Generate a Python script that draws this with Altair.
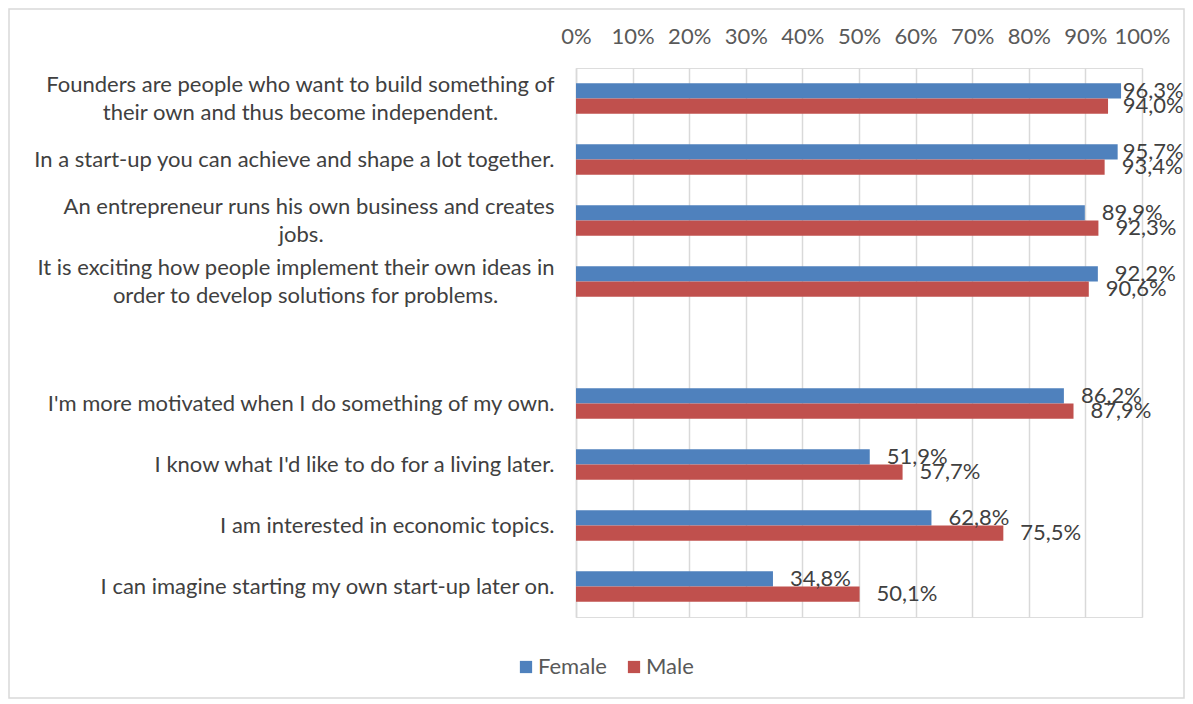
import altair as alt
import pandas as pd

NB = "\u00a0"
ZW = "\u200b"

categories = [
    "Founders are people who want to build something of|their own and thus become independent." + NB * 10 + ZW,
    "In a start-up you can achieve and shape a lot together.",
    "An entrepreneur runs his own business and creates|jobs." + NB * 41 + ZW,
    "It is exciting how people implement their own ideas in|order to develop solutions for problems." + NB * 10 + ZW,
    " ",
    "I'm more motivated when I do something of my own.",
    "I know what I'd like to do for a living later.",
    "I am interested in economic topics.",
    "I can imagine starting my own start-up later on.",
]
series = ["Female", "Male"]
female = [96.3, 95.7, 89.9, 92.2, None, 86.2, 51.9, 62.8, 34.8]
male = [94.0, 93.4, 92.3, 90.6, None, 87.9, 57.7, 75.5, 50.1]
colors = ["#4F81BD", "#C0504D"]

rows = []
for c, f, m in zip(categories, female, male):
    for s, v in zip(series, [f, m]):
        if v is None:
            continue
        rows.append({"cat": c, "series": s, "v": v,
                     "lab": f"{v:.1f}".replace(".", ",") + "%"})
df = pd.DataFrame(rows)

FONT = "Lato"
FS = 22

y_enc = alt.Y("cat:N", sort=categories,
              scale=alt.Scale(domain=categories, paddingInner=0.5, paddingOuter=0.25),
              axis=alt.Axis(title=None, labelExpr="split(datum.value, '|')",
                            labelFont=FONT, labelFontSize=FS, labelColor="#404040",
                            labelLineHeight=28, labelPadding=22, ticks=False,
                            labelOffset={"condition": {"test": "indexof(datum.value, '|') >= 0",
                                                       "value": -14}, "value": 0},
                            domainColor="#D9D9D9", domainWidth=1.5, labelLimit=0,
                            labelOverlap=False))

base = alt.Chart(df)

bars = base.mark_bar().encode(
    x=alt.X("v:Q", scale=alt.Scale(domain=[0, 100]),
            axis=alt.Axis(orient="top", title=None, values=list(range(0, 101, 10)),
                          labelExpr="datum.value + '%'", labelFont=FONT, labelFontSize=FS,
                          labelColor="#595959", labelPadding=20, ticks=False, domain=False,
                          labelOverlap=False, labelFlush=False,
                          grid=True, gridColor="#D9D9D9", gridWidth=1.5)),
    y=y_enc,
    yOffset=alt.YOffset("series:N", sort=series),
    color=alt.Color("series:N", sort=series,
                    scale=alt.Scale(domain=series, range=colors),
                    legend=alt.Legend(title=None, orient="none", direction="horizontal",
                                      legendX=-61, legendY=588, symbolType="square",
                                      symbolSize=150, symbolStrokeWidth=0,
                                      labelFont=FONT, labelFontSize=FS, labelColor="#595959",
                                      columnPadding=16, labelOffset=1)),
)

labels = base.transform_calculate(px="min(datum.v, 93.6)").mark_text(
    align="left", baseline="middle", dx=17, font=FONT, fontSize=FS, color="#404040"
).encode(
    x="px:Q",
    y=alt.Y("cat:N", sort=categories),
    yOffset=alt.YOffset("series:N", sort=series),
    text="lab:N",
)

frame = alt.Chart(alt.Data(values=[{"a": 1}])).mark_rect(
    fill=None, stroke="#D9D9D9", strokeWidth=1.5
).encode(
    x=alt.value(-567), x2=alt.value(608), y=alt.value(-59), y2=alt.value(630)
)

chart = alt.layer(frame, bars, labels).properties(
    width=566, height=549,
    padding={"left": 568, "top": 60, "right": 43, "bottom": 86},
    autosize=alt.AutoSizeParams(type="none"),
).configure_view(stroke=None).configure(background="white")

chart.save("out.html", embed_options={"renderer": "svg", "actions": False})
